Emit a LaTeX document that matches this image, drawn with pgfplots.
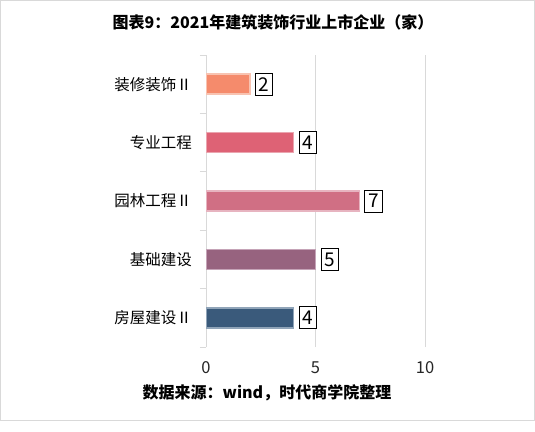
\documentclass[border=0pt]{standalone}
\usepackage{fontspec}
\setmainfont{Noto Sans CJK SC}
\usepackage{pgfplots}
\pgfplotsset{compat=1.18}

\definecolor{gridgray}{HTML}{D9D9D9}
\definecolor{fA}{HTML}{F58B6C}\definecolor{bA}{HTML}{F8C3B1}
\definecolor{fB}{HTML}{DE6275}\definecolor{bB}{HTML}{EAA5AF}
\definecolor{fC}{HTML}{D06F84}\definecolor{bC}{HTML}{E7B4C0}
\definecolor{fD}{HTML}{97637F}\definecolor{bD}{HTML}{C5A3B7}
\definecolor{fE}{HTML}{3A5A7B}\definecolor{bE}{HTML}{90A4B8}

\begin{document}
\begin{tikzpicture}
\useasboundingbox (0pt,0pt) rectangle (535pt,431pt);
\draw[gridgray, line width=1.2pt] (0.6pt,10.6pt) rectangle (534.4pt,430.4pt);

\node[font=\bfseries\fontsize{16}{16}\selectfont] at (273pt,409pt) {图表9：2021年建筑装饰行业上市企业（家）};
\node[font=\bfseries\fontsize{16}{16}\selectfont] at (267pt,38pt) {数据来源：wind，时代商学院整理};

\begin{axis}[
  at={(206pt,84pt)}, anchor=south west,
  scale only axis, width=219pt, height=292pt,
  xbar, bar width=20pt, bar shift=0pt,
  xmin=0, xmax=10,
  ymin=-0.5, ymax=4.5,
  xtick={0,5,10},
  ytick={0,1,2,3,4},
  yticklabels={房屋建设Ⅱ,基础建设,园林工程Ⅱ,专业工程,装修装饰Ⅱ},
  minor ytick={-0.5,0.5,1.5,2.5,3.5,4.5},
  xtick pos=bottom, ytick pos=left,
  major tick length=0pt, minor tick length=6pt,
  tick align=outside,
  minor y tick style={draw=gridgray, line width=0.8pt},
  axis line style={draw=none},
  xmajorgrids, grid style={gridgray, line width=0.8pt},
  /pgf/number format/assume math mode=true,
  xticklabel style={font=\fontsize{16.5}{16.5}\selectfont, text=black!85, anchor=center, yshift=-20pt, text height=12pt, text depth=0pt},
  yticklabel style={font=\fontsize{15.5}{15.5}\selectfont, anchor=east, inner sep=0pt, xshift=-14pt},
  nodes near coords,
  every node near coord/.append style={
    font=\fontsize{19}{19}\selectfont, draw=black, line width=0.9pt, fill=white,
    anchor=west, xshift=5pt, inner xsep=3.4pt, inner ysep=4pt,
    text height=14pt, text depth=0pt},
]
\addplot[fill=fE, draw=bE, line width=1.5pt] coordinates {(4,0)};
\addplot[fill=fD, draw=bD, line width=1.5pt] coordinates {(5,1)};
\addplot[fill=fC, draw=bC, line width=1.5pt] coordinates {(7,2)};
\addplot[fill=fB, draw=bB, line width=1.5pt] coordinates {(4,3)};
\addplot[fill=fA, draw=bA, line width=1.5pt] coordinates {(2,4)};
\end{axis}
\end{tikzpicture}
\end{document}
